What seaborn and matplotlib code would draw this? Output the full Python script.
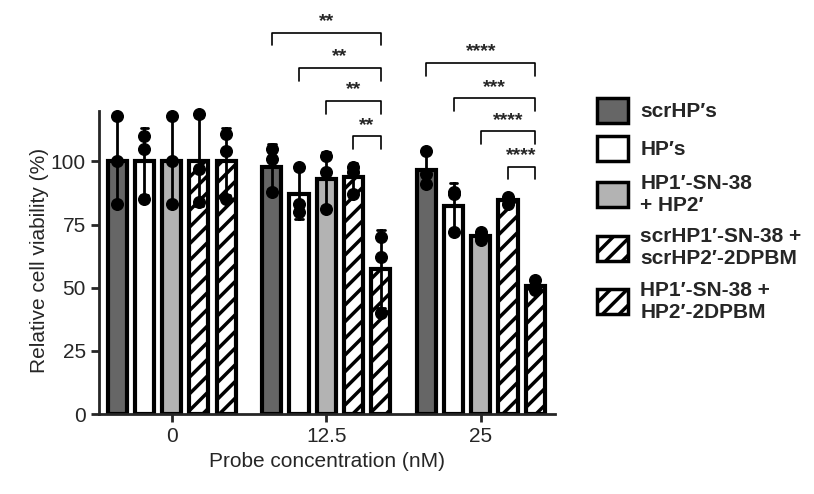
import matplotlib
matplotlib.use("Agg")
import matplotlib.pyplot as plt
import seaborn as sns
import pandas as pd
from matplotlib.patches import Patch

# Data (3 replicates per bar)
concentrations = ["0", "12.5", "25"]
groups = ["scrHP\u2032s", "HP\u2032s", "HP1\u2032-SN-38\n+ HP2\u2032",
          "scrHP1\u2032-SN-38 +\nscrHP2\u2032-2DPBM", "HP1\u2032-SN-38 +\nHP2\u2032-2DPBM"]
replicates = {
    "0": [[118, 100, 83], [110, 105, 85], [118, 100, 83], [119, 97, 84], [111, 104, 85]],
    "12.5": [[105, 101, 88], [98, 80, 83], [102, 96, 81], [98, 96, 87], [70, 62, 40]],
    "25": [[104, 95, 91], [88, 87, 72], [72, 70, 69], [86, 85, 83], [53, 50, 49]],
}
sig_labels = {"12.5": ["**", "**", "**", "**"], "25": ["****", "***", "****", "****"]}
sig_heights = {"12.5": [151, 137, 124, 110], "25": [139, 125, 112, 98]}

rows = []
for c in concentrations:
    for g, vals in zip(groups, replicates[c]):
        for v in vals:
            rows.append({"conc": c, "group": g, "viability": v})
df = pd.DataFrame(rows)

sns.set_style("ticks")
plt.rcParams["font.family"] = ["Liberation Sans", "DejaVu Sans"]
plt.rcParams["hatch.linewidth"] = 2.5
plt.rcParams["hatch.color"] = "black"

colors = ["#666666", "white", "#b3b3b3", "white", "white"]
hatches = [None, None, None, "//", "//"]

fig = plt.figure(figsize=(8.14, 4.94), dpi=100)
ax = fig.add_axes([99 / 814, 80 / 494, (555 - 99) / 814, (414 - 10) / 494])

sns.barplot(data=df, x="conc", y="viability", hue="group", hue_order=groups,
            order=concentrations, palette=colors, estimator="mean", errorbar="sd",
            width=0.88, gap=0.3, capsize=0.25, err_kws={"color": "black", "linewidth": 2},
            edgecolor="black", linewidth=3, legend=False, ax=ax)

# hatches and replicate points placed on the bar centres
for gi, (cont, h) in enumerate(zip(ax.containers, hatches)):
    for ci, bar in enumerate(cont):
        if h:
            bar.set_hatch(h)
        xc = bar.get_x() + bar.get_width() / 2
        vals = replicates[concentrations[ci]][gi]
        ax.scatter([xc] * len(vals), vals, s=70, color="black", zorder=5, clip_on=False)

ax.set_ylim(0, 160)
ax.set_xlim(-0.47, 2.48)
ax.set_yticks([0, 25, 50, 75, 100])
ax.spines["top"].set_visible(False)
ax.spines["right"].set_visible(False)
ax.spines["left"].set_bounds(0, 120)
ax.spines["left"].set_linewidth(2)
ax.spines["bottom"].set_linewidth(2)
ax.tick_params(width=2, length=6, labelsize=15)
ax.set_xlabel("Probe concentration (nM)", fontsize=15)
ax.set_ylabel("Relative cell viability (%)", fontsize=15)
ax.yaxis.set_label_coords(-0.11, 0.38)

# significance brackets: each compares bar k with the last bar
for gi, c in enumerate(concentrations):
    if c not in sig_labels:
        continue
    xs = [b.get_x() + b.get_width() / 2 for b in (cont[gi] for cont in ax.containers)]
    for k, (hgt, lab) in enumerate(zip(sig_heights[c], sig_labels[c])):
        ax.plot([xs[k], xs[k], xs[4], xs[4]], [hgt - 5, hgt, hgt, hgt - 5],
                color="black", lw=1.2, clip_on=False)
        ax.text((xs[k] + xs[4]) / 2, hgt + 1, lab, ha="center", va="bottom",
                fontsize=14, fontweight="bold")

handles = [Patch(facecolor=col, edgecolor="black", linewidth=2.5, hatch=h)
           for col, h in zip(colors, hatches)]
fig.legend(handles, groups, loc="upper left", bbox_to_anchor=(0.71, 0.84),
           frameon=False, prop={"size": 15, "weight": "bold"},
           handlelength=1.5, handleheight=1.5, labelspacing=0.6, handletextpad=0.6)

fig.savefig("out.png", dpi=100)
